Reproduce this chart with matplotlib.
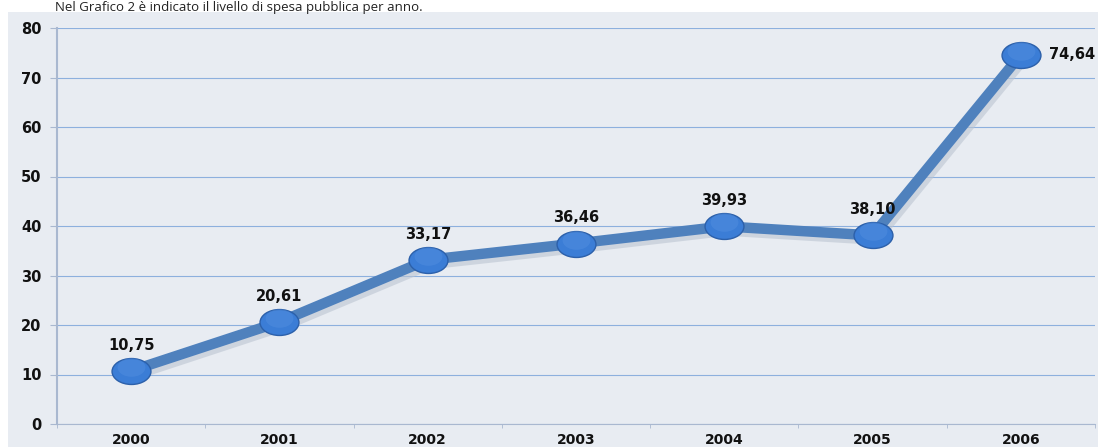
import matplotlib.pyplot as plt
from matplotlib.path import Path
from matplotlib.transforms import Affine2D
import matplotlib.patches as patches

plt.rcParams["font.family"] = ["DejaVu Sans"]

anni = ["2000", "2001", "2002", "2003", "2004", "2005", "2006"]
spesa = [10.75, 20.61, 33.17, 36.46, 39.93, 38.10, 74.64]
etichette = ["10,75", "20,61", "33,17", "36,46", "39,93", "38,10", "74,64"]

fig = plt.figure(figsize=(10.98, 4.47), dpi=100)
fig.patch.set_facecolor("white")

# panel background
fig.patches.append(patches.Rectangle((8 / 1098, 0), 1, 1 - 12 / 447,
                                     transform=fig.transFigure,
                                     facecolor="#e8ecf2", edgecolor="none", zorder=-10))
fig.text(55 / 1098, 1 - 10.5 / 447,
         "Nel Grafico 2 è indicato il livello di spesa pubblica per anno.",
         fontsize=9.5, family="Open Sans", color="#222222", va="baseline", ha="left")

ax = fig.add_axes([57 / 1098, 1 - 424 / 447, 1038 / 1098, 396 / 447])
ax.set_facecolor("none")
x = list(range(len(anni)))

ellisse = Affine2D().scale(1.5, 1.0).transform_path(Path.unit_circle())

# shadow
ax.plot([v + 0.02 for v in x], [v - 0.8 for v in spesa], color="#bcc5d2",
        lw=8, solid_capstyle="round", zorder=2, alpha=0.6)
ax.plot(x, spesa, color="#4f81bd", lw=7.5, solid_capstyle="round", zorder=3)
ax.plot(x, spesa, ls="none", marker=ellisse, ms=28, mfc="#3b7dd6",
        mec="#2c60aa", mew=1.0, zorder=4)
ax.plot(x, [v + 0.8 for v in spesa], ls="none", marker=ellisse,
        ms=20, mfc="#5b96e4", mec="none", zorder=5, alpha=0.35)

for i, (v, t) in enumerate(zip(spesa, etichette)):
    if i == len(anni) - 1:
        ax.annotate(t, (i, v), xytext=(20, 0), textcoords="offset points",
                    ha="left", va="center", fontsize=10.5, fontweight="bold",
                    color="#111111")
    else:
        ax.annotate(t, (i, v), xytext=(0, 13), textcoords="offset points",
                    ha="center", va="bottom", fontsize=10.5, fontweight="bold",
                    color="#111111")

ax.set_xlim(-0.5, len(anni) - 0.5)
ax.set_ylim(0, 80)
ax.set_yticks(range(0, 81, 10))
ax.set_xticks(x)
ax.set_xticklabels(anni)
ax.set_xticks([k - 0.5 for k in range(len(anni) + 1)], minor=True)
ax.tick_params(axis="x", which="major", length=0, pad=6.5, labelsize=10)
ax.tick_params(axis="x", which="minor", length=3, color="#a9b8d0", direction="out")
ax.tick_params(axis="y", length=5, color="#a9b8d0", pad=6, labelsize=10.5)
for lab in ax.get_xticklabels() + ax.get_yticklabels():
    lab.set_fontweight("bold")
    lab.set_color("#111111")

ax.grid(axis="y", color="#8db0de", lw=0.8, zorder=1)
ax.set_axisbelow(True)
for s in ["top", "right"]:
    ax.spines[s].set_visible(False)
ax.spines["left"].set_color("#a9b8d0")
ax.spines["bottom"].set_color("#a9b8d0")
ax.spines["left"].set_linewidth(1.5)

fig.savefig("out.png", dpi=100)
